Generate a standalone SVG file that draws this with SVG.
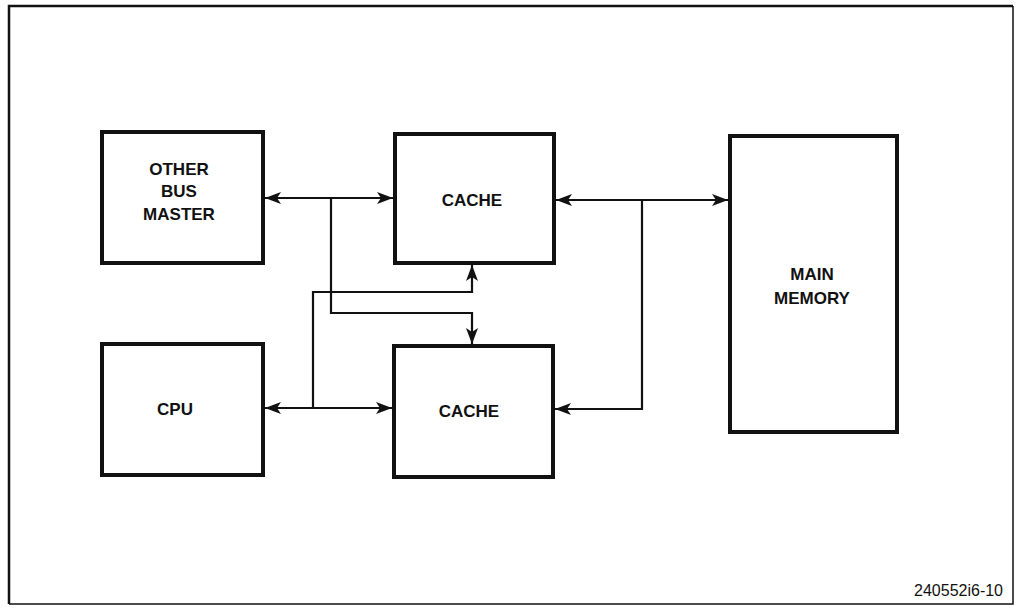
<svg xmlns="http://www.w3.org/2000/svg" width="1015" height="608" viewBox="0 0 1015 608">
<style>
.box{fill:#fff;stroke:#111;stroke-width:4}
.ln{fill:none;stroke:#111;stroke-width:2.2}
.t{font-family:"Liberation Sans",Arial,sans-serif;font-weight:bold;font-size:17px;fill:#111;text-anchor:middle}
.id{font-family:"Liberation Sans",Arial,sans-serif;font-size:16px;fill:#111;text-anchor:end}
</style>
<defs>
<marker id="ah" viewBox="0 0 16 12" refX="16" refY="6" markerWidth="16" markerHeight="12" markerUnits="userSpaceOnUse" orient="auto-start-reverse">
<path d="M0,0 L16,6 L0,12 L4,6 Z" fill="#111"/>
</marker>
</defs>
<rect width="1015" height="608" fill="#fff"/>
<path d="M9,604 L9,6 L1013,6" fill="none" stroke="#111" stroke-width="2.5"/>
<path d="M1013,6 L1013,604 L9,604" fill="none" stroke="#111" stroke-width="1.5"/>
<g id="other-bus-master">
<rect class="box" x="102" y="132" width="161" height="131"/>
<text class="t" x="179" y="175">OTHER</text>
<text class="t" x="179" y="197">BUS</text>
<text class="t" x="179" y="220">MASTER</text>
</g>
<g id="cache-top">
<rect class="box" x="395" y="134" width="159" height="129"/>
<text class="t" x="472" y="206">CACHE</text>
</g>
<g id="cpu">
<rect class="box" x="102" y="344" width="161" height="131"/>
<text class="t" x="175" y="415">CPU</text>
</g>
<g id="cache-bottom">
<rect class="box" x="394" y="346" width="159" height="131"/>
<text class="t" x="469" y="417">CACHE</text>
</g>
<g id="main-memory">
<rect class="box" x="730" y="136" width="167" height="296"/>
<text class="t" x="812" y="280">MAIN</text>
<text class="t" x="812" y="304">MEMORY</text>
</g>
<g id="connectors">
<line class="ln" x1="265" y1="198" x2="393" y2="198" marker-start="url(#ah)" marker-end="url(#ah)"/>
<line class="ln" x1="265" y1="408" x2="392" y2="408" marker-start="url(#ah)" marker-end="url(#ah)"/>
<line class="ln" x1="556" y1="200" x2="728" y2="200" marker-start="url(#ah)" marker-end="url(#ah)"/>
<polyline class="ln" points="642,200 642,409 555,409" marker-end="url(#ah)"/>
<polyline class="ln" points="313,408 313,292 472,292 472,265" marker-end="url(#ah)"/>
<polyline class="ln" points="331,198 331,313 472,313 472,344" marker-end="url(#ah)"/>
</g>
<text class="id" x="1003" y="596">240552i6-10</text>
</svg>
